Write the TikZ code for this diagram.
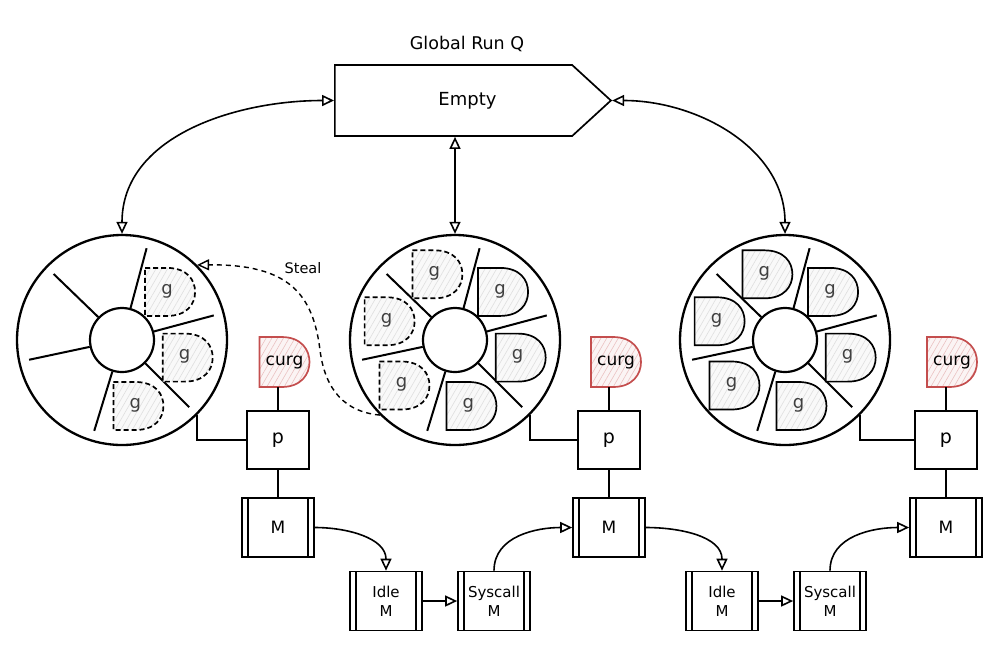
\documentclass[tikz,border=0pt]{standalone}
\usepackage{fontspec}
\setmainfont{DejaVu Sans}
\usetikzlibrary{arrows.meta,calc,shapes.symbols,patterns.meta}
\definecolor{curgred}{RGB}{196,78,78}
\newcommand\gslot[4]{%
  \coordinate (#4) at ($(#1)+({68*cos(#2)},{68*sin(#2)})$);
  \draw[#3,shift={(#4)}] (-25,-24) -- (-3,-24) .. controls (17,-24) and (25,-12) .. (25,0) .. controls (25,12) and (17,24) .. (-3,24) -- (-25,24) -- cycle;
  \node[gtext] (#4t) at ($(#4)+(-3,-1)$) {g};
}
\newcommand\curgshape[3]{%
  \coordinate (#1c) at (#2,#3);
  \draw[curgD,shift={(#1c)}] (-25,-25) -- (-3,-25) .. controls (17,-25) and (25,-12) .. (25,0) .. controls (25,12) and (17,25) .. (-3,25) -- (-25,25) -- cycle;
  \node[curgtext] (#1) at (#1c) {curg};
}
\begin{document}
\begin{tikzpicture}[x=1pt,y=-1pt,
  every node/.style={font=\fontsize{16}{18}\selectfont, inner sep=0pt},
  ring/.style={circle, draw, line width=2.3pt, minimum size=210pt},
  hub/.style={circle, draw, line width=2.2pt, minimum size=64pt},
  spoke/.style={line width=2pt},
  pbox/.style={draw, line width=1.7pt, minimum width=62pt, minimum height=58pt, font=\fontsize{19}{21}\selectfont},
  mbox/.style={draw, line width=1.7pt, minimum width=72pt, minimum height=59pt, align=center,
    path picture={\draw[line width=1.5pt] ([xshift=6pt]path picture bounding box.north west) -- ([xshift=6pt]path picture bounding box.south west)
      ([xshift=-6pt]path picture bounding box.north east) -- ([xshift=-6pt]path picture bounding box.south east);}},
  mtext/.style={font=\fontsize{17}{19}\selectfont},
  stext/.style={font=\fontsize{15}{19}\selectfont},
  conn/.style={line width=1.4pt},
  tip/.tip={Triangle[open,length=12pt,width=11pt]},
  arr/.style={line width=1.6pt, -tip},
  arrs/.style={line width=1.6pt, tip-tip},
  gD/.style={line width=1.7pt, preaction={fill=gray!5}, pattern={Lines[angle=60,distance=5pt,line width=0.6pt]}, pattern color=gray!25},
  gdash/.style={gD, dash pattern=on 5pt off 3pt},
  gtext/.style={font=\fontsize{18}{20}\selectfont, text=black!75},
  curgD/.style={line width=1.7pt, draw=curgred, preaction={fill=curgred!6}, pattern={Lines[angle=60,distance=5pt,line width=0.6pt]}, pattern color=curgred!35},
  curgtext/.style={font=\fontsize{17}{19}\selectfont, minimum width=50pt, minimum height=50pt},
]
\useasboundingbox (0,0) rectangle (1000,649);

% Global run queue
\node (gl) at (467,44) {\fontsize{17.5}{19}\selectfont Global Run Q};
\node[signal, signal to=east, signal pointer angle=85, draw, line width=1.7pt,
      minimum width=276pt, minimum height=71pt, font=\fontsize{18}{20}\selectfont] (Q) at (453.5,100.5) {\hspace*{28pt}Empty};

% rings
\foreach \n/\cx in {lc/122, mc/455, rc/785}{
  \node[ring] (\n) at (\cx,340) {};
  \node[hub] (\n h) at (\n) {};
  \foreach \a in {-75,-136,168,107,45,-15}
    \draw[spoke] ($(\n)+({33*cos(\a)},{33*sin(\a)})$) -- ($(\n)+({95*cos(\a)},{95*sin(\a)})$);
}

% goroutines
\gslot{lc}{-45}{gdash}{lg1}
\gslot{lc}{15}{gdash}{lg2}
\gslot{lc}{76}{gdash}{lg3}
\gslot{mc}{-105}{gdash}{mg1}
\gslot{mc}{-164}{gdash}{mg2}
\gslot{mc}{138}{gdash}{mg3}
\gslot{mc}{-45}{gD}{mg4}
\gslot{mc}{15}{gD}{mg5}
\gslot{mc}{76}{gD}{mg6}
\gslot{rc}{-105}{gD}{rg1}
\gslot{rc}{-164}{gD}{rg2}
\gslot{rc}{138}{gD}{rg3}
\gslot{rc}{-45}{gD}{rg4}
\gslot{rc}{15}{gD}{rg5}
\gslot{rc}{76}{gD}{rg6}

% curg
\curgshape{lcg}{284.5}{362}
\curgshape{mcg}{616}{362}
\curgshape{rcg}{952}{362}

% P and M
\node[pbox] (lp) at (278,440) {p};
\node[pbox] (mp) at (609,440) {p};
\node[pbox] (rp) at (946,440) {p};
\node[mbox,mtext] (lm) at (278,527.5) {M};
\node[mbox,mtext] (mm) at (609,527.5) {M};
\node[mbox,mtext] (rm) at (946,527.5) {M};
\node[mbox,stext] (i1) at (386,601) {Idle\\M};
\node[mbox,stext] (s1) at (494,601) {Syscall\\M};
\node[mbox,stext] (i2) at (722,601) {Idle\\M};
\node[mbox,stext] (s2) at (830,601) {Syscall\\M};

\foreach \c/\p/\g/\m in {lc/lp/lcg/lm, mc/mp/mcg/mm, rc/rp/rcg/rm}{
  \draw[conn] (\c.-45) |- (\p.west);
  \draw[conn] (\p.north) -- (\p.north |- \g.south);
  \draw[conn] (\p.south) -- (\m.north);
}

% queue arrows
\draw[arrs] (lc.north) to[out=90,in=180] (Q.west);
\draw[arrs] (Q.south -| mc.north) -- (mc.north);
\draw[arrs] (Q.east) to[out=0,in=90] (rc.north);

% steal
\draw[line width=1.4pt, dash pattern=on 5pt off 4pt, -tip] (mc.225) .. controls (345,412) and (325,390) .. (320,350) .. controls (313,295) and (290,264) .. (lc.45);
\node (st) at (303,268) {\fontsize{14.5}{16}\selectfont Steal};

% M handoff arrows
\draw[arr] (lm.east) to[out=0,in=90] (i1.north);
\draw[arr] (i1.east) -- (s1.west);
\draw[arr] (s1.north) to[out=90,in=180] (mm.west);
\draw[arr] (mm.east) to[out=0,in=90] (i2.north);
\draw[arr] (i2.east) -- (s2.west);
\draw[arr] (s2.north) to[out=90,in=180] (rm.west);
\end{tikzpicture}
\end{document}
